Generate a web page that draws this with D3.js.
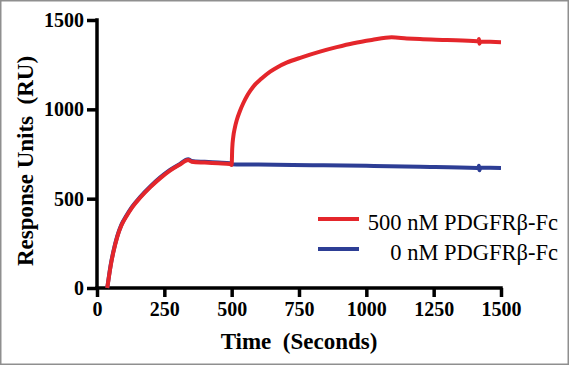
<!DOCTYPE html>
<html><head><meta charset="utf-8">
<script src="https://cdn.jsdelivr.net/npm/d3@7"></script>
<style>body{margin:0;background:#fff}svg{display:block}</style>
</head><body>
<script>
const redTime = [38,45,52,60,75,90,110,130,160,197,235,271,305,339,345,351,400,450,494,500,502,506,512,519,530,543,560,580,610,643,670,704,760,828,890,952,1020,1094,1150,1199,1300,1412,1416,1418,1420,1424,1460,1500];
const redValues = [0,70,135,195,285,348,403,450,505,563,615,657,688,716,712,707,702,698,694,688,778,847,898,940,988,1034,1083,1127,1171,1211,1236,1261,1291,1323,1348,1370,1388,1403,1397,1393,1388,1381,1379,1393,1367,1379,1378,1376];
const blueTime = [38,45,52,60,75,90,110,130,160,197,235,271,305,339,345,351,400,450,494,500,600,800,1000,1200,1412,1416,1418,1420,1424,1460,1500];
const blueValues = [0,73,139,199,289,352,407,454,509,567,619,661,692,720,716,711,706,702,698,692,691,687,684,679,671,669,684,659,673,673,672];
const xTicks = [0,250,500,750,1000,1250,1500];
const yTicks = [0,500,1000,1500];
const legendLabels = ["500 nM PDGFR\u03b2-Fc","0 nM PDGFR\u03b2-Fc"];
const colors = ["#e4262b","#2d3e95"];

const W=571,H=366;
const svg=d3.select("body").append("svg").attr("width",W).attr("height",H);
svg.append("rect").attr("x",0.75).attr("y",0.75).attr("width",567.5).attr("height",363.5)
  .attr("fill","#fff").attr("stroke","#8f8f8f").attr("stroke-width",1.5);

const x=d3.scaleLinear().domain([0,1500]).range([97,501]);
const y=d3.scaleLinear().domain([0,1500]).range([288,20]);
const font="'Liberation Serif','Times New Roman',serif";

const xa=svg.append("g").attr("transform","translate(0,288)")
  .call(d3.axisBottom(x).tickValues(xTicks).tickSize(9).tickPadding(5).tickFormat(d3.format("d")));
const ya=svg.append("g").attr("transform","translate(97,0)")
  .call(d3.axisLeft(y).tickValues(yTicks).tickSize(10).tickPadding(3).tickFormat(d3.format("d")));
[xa,ya].forEach(a=>{
  a.selectAll("path").attr("stroke","#000").attr("stroke-width",3.5).attr("stroke-linecap","square");
  a.selectAll("line").attr("stroke","#000").attr("stroke-width",3.5);
  a.selectAll("text").attr("font-family",font).attr("font-weight","bold").attr("font-size",20).attr("fill","#000");
});
xa.select(".domain").attr("d",`M${x(0)},0H${x(1500)}`);
ya.select(".domain").attr("d",`M0,${y(0)}V${y(1500)}`);

svg.append("text").attr("x",x(750)).attr("y",349).attr("text-anchor","middle")
  .attr("font-family",font).attr("font-weight","bold").attr("font-size",23).attr("xml:space","preserve")
  .text("Time  (Seconds)");
svg.append("text").attr("transform",`translate(33,161) rotate(-90)`).attr("text-anchor","middle")
  .attr("font-family",font).attr("font-weight","bold").attr("font-size",23).attr("xml:space","preserve")
  .text("Response Units  (RU)");

const line=d3.line().x(d=>x(d[0])).y(d=>y(d[1])).curve(d3.curveMonotoneX);
const blue=blueTime.map((t,i)=>[t,blueValues[i]]);
const red=redTime.map((t,i)=>[t,redValues[i]]);
svg.append("path").attr("d",line(blue)).attr("fill","none").attr("stroke",colors[1]).attr("stroke-width",4).attr("stroke-linejoin","round");
svg.append("path").attr("d",line(red)).attr("fill","none").attr("stroke",colors[0]).attr("stroke-width",4).attr("stroke-linejoin","round");

const lg=svg.append("g");
legendLabels.forEach((l,i)=>{
  const yy=219+i*30;
  lg.append("line").attr("x1",318).attr("x2",359).attr("y1",yy).attr("y2",yy).attr("stroke",colors[i]).attr("stroke-width",4);
  lg.append("text").attr("x",558).attr("y",yy+11).attr("text-anchor","end")
    .attr("font-family",font).attr("font-size",22.5).attr("fill","#000").text(l);
});
</script>
</body></html>
